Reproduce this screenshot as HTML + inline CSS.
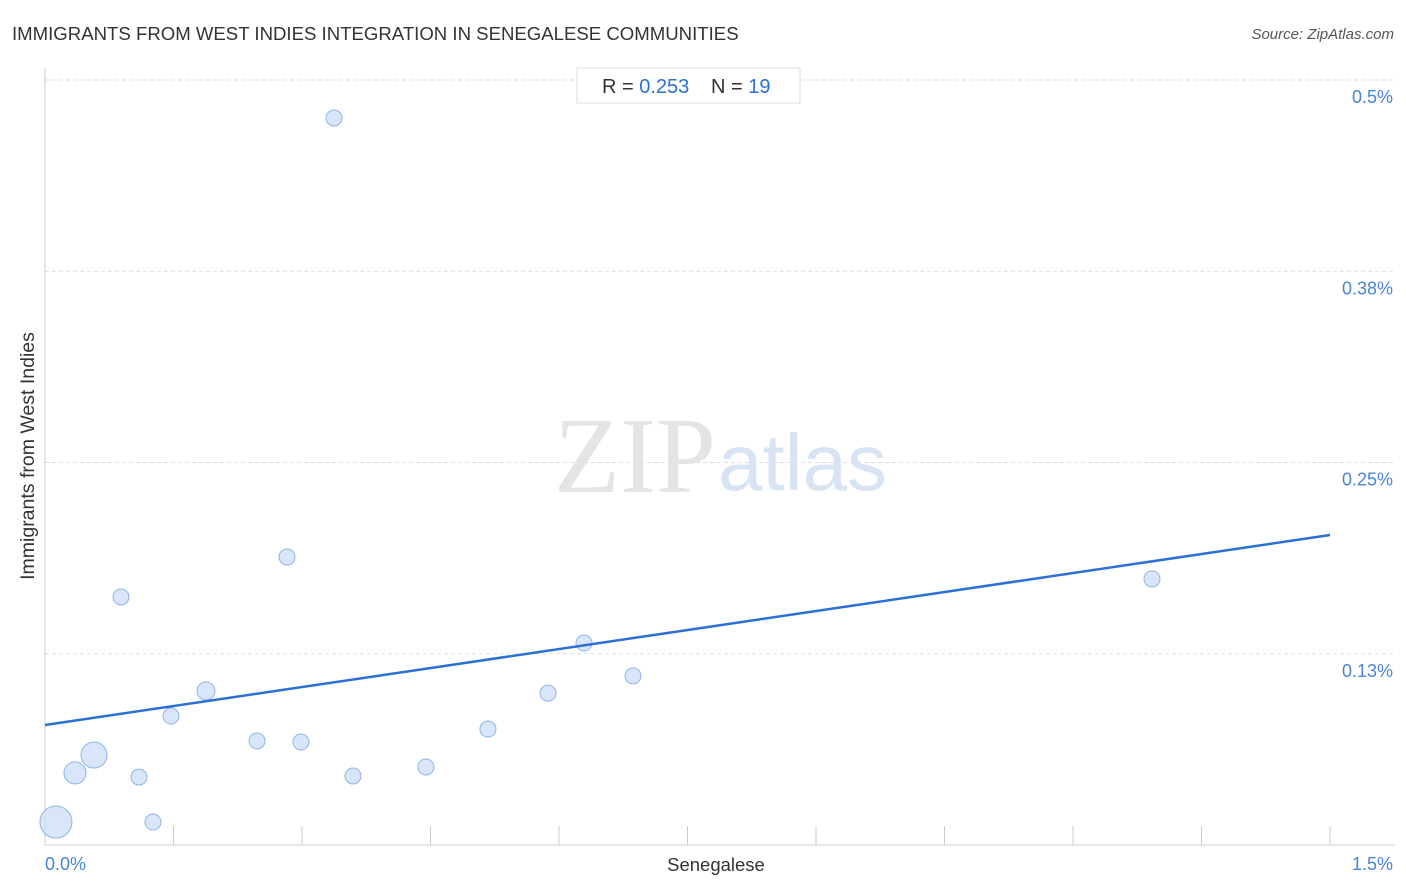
<!DOCTYPE html>
<html><head><meta charset="utf-8"><style>
body{margin:0;background:#fff;font-family:"Liberation Sans",sans-serif;}
svg{display:block}
</style></head><body>
<svg id="chart" width="1406" height="892">
<text x="12" y="40" font-size="18.6" fill="#333">IMMIGRANTS FROM WEST INDIES INTEGRATION IN SENEGALESE COMMUNITIES</text>
<text x="1394" y="39" font-size="15" fill="#555" font-style="italic" text-anchor="end">Source: ZipAtlas.com</text>
<g id="grid"></g>
<text x="716" y="492" font-size="108" fill="#e4e4e4" text-anchor="end" font-family="Liberation Serif,serif">ZIP</text>
<text x="718" y="490" font-size="80" fill="#d8e4f4">atlas</text>
<line x1="45" y1="68" x2="45" y2="845" stroke="#ccc"/>
<line x1="45" y1="845" x2="1395" y2="845" stroke="#ccc"/>
<g id="ticks"></g>
<g id="points"></g>
<line id="trend" stroke="#2a70d6" stroke-width="2.5"/>
<text x="45" y="870" font-size="18" fill="#4a84d8">0.0%</text>
<text x="1393" y="870" font-size="18" fill="#4a84d8" text-anchor="end">1.5%</text>
<text x="716" y="871" font-size="18.5" fill="#333" text-anchor="middle">Senegalese</text>
<text transform="translate(34,456) rotate(-90)" font-size="19.5" fill="#333" text-anchor="middle">Immigrants from West Indies</text>
<rect x="577" y="68" width="223" height="35" fill="#fff" stroke="#ddd"/>
<text x="602" y="93" font-size="20" fill="#333">R = <tspan fill="#2a70d6">0.253</tspan><tspan x="711">N = </tspan><tspan fill="#2a70d6">19</tspan></text>
</svg>
<script>
const xVals=[0.0128,0.035,0.0572,0.0887,0.1097,0.1261,0.1471,0.1879,0.2475,0.2825,0.2988,0.3374,0.3595,0.4447,0.5171,0.5872,0.6292,0.6864,1.2922];
const yVals=[0.0150,0.0471,0.0588,0.1621,0.0444,0.0150,0.0843,0.1007,0.0680,0.1882,0.0673,0.4752,0.0451,0.0510,0.0758,0.0993,0.1320,0.1105,0.1739];
const sizes=[16,11,13,8,8,8,8,9,8,8,8,8,8,8,8,8,8,8,8];
const yTicks=[0.5,0.375,0.25,0.125];
const yTickLabels=["0.5%","0.38%","0.25%","0.13%"];
const xTicks=[0.15,0.3,0.45,0.6,0.75,0.9,1.05,1.2,1.35,1.5];
const trendX=[0,1.5];
const trendY=[0.0784,0.2026];
const ns="http://www.w3.org/2000/svg";
const X=v=>45+v/1.5*1285;
const Y=v=>845-v/0.5*765;
const grid=document.getElementById('grid');
yTicks.forEach((t,i)=>{
 const l=document.createElementNS(ns,'line');
 l.setAttribute('x1',45);l.setAttribute('x2',1395);l.setAttribute('y1',Y(t));l.setAttribute('y2',Y(t));
 l.setAttribute('stroke','#ddd');l.setAttribute('stroke-dasharray','4,3');
 
 
 grid.appendChild(l);
 const tx=document.createElementNS(ns,'text');
 tx.setAttribute('x',1393);tx.setAttribute('y',Y(t)+23);tx.setAttribute('text-anchor','end');
 tx.setAttribute('font-size','18');tx.setAttribute('fill','#4a84d8');tx.textContent=yTickLabels[i];
 
 
 grid.appendChild(tx);
});
const tk=document.getElementById('ticks');
xTicks.forEach(t=>{
 const l=document.createElementNS(ns,'line');
 l.setAttribute('x1',X(t));l.setAttribute('x2',X(t));l.setAttribute('y1',826);l.setAttribute('y2',845);
 l.setAttribute('stroke','#ccc');
 
 
 tk.appendChild(l);
});
const pts=document.getElementById('points');
xVals.forEach((x,i)=>{
 const c=document.createElementNS(ns,'circle');
 c.setAttribute('cx',X(x));c.setAttribute('cy',Y(yVals[i]));c.setAttribute('r',sizes[i]);
 c.setAttribute('fill','#cfe0f7');c.setAttribute('fill-opacity','0.8');c.setAttribute('stroke','#8fb4e6');
 
 
 pts.appendChild(c);
});
const tr=document.getElementById('trend');
tr.setAttribute('x1',X(trendX[0]));tr.setAttribute('y1',Y(trendY[0]));
tr.setAttribute('x2',X(trendX[1]));tr.setAttribute('y2',Y(trendY[1]));
</script>
</body></html>
